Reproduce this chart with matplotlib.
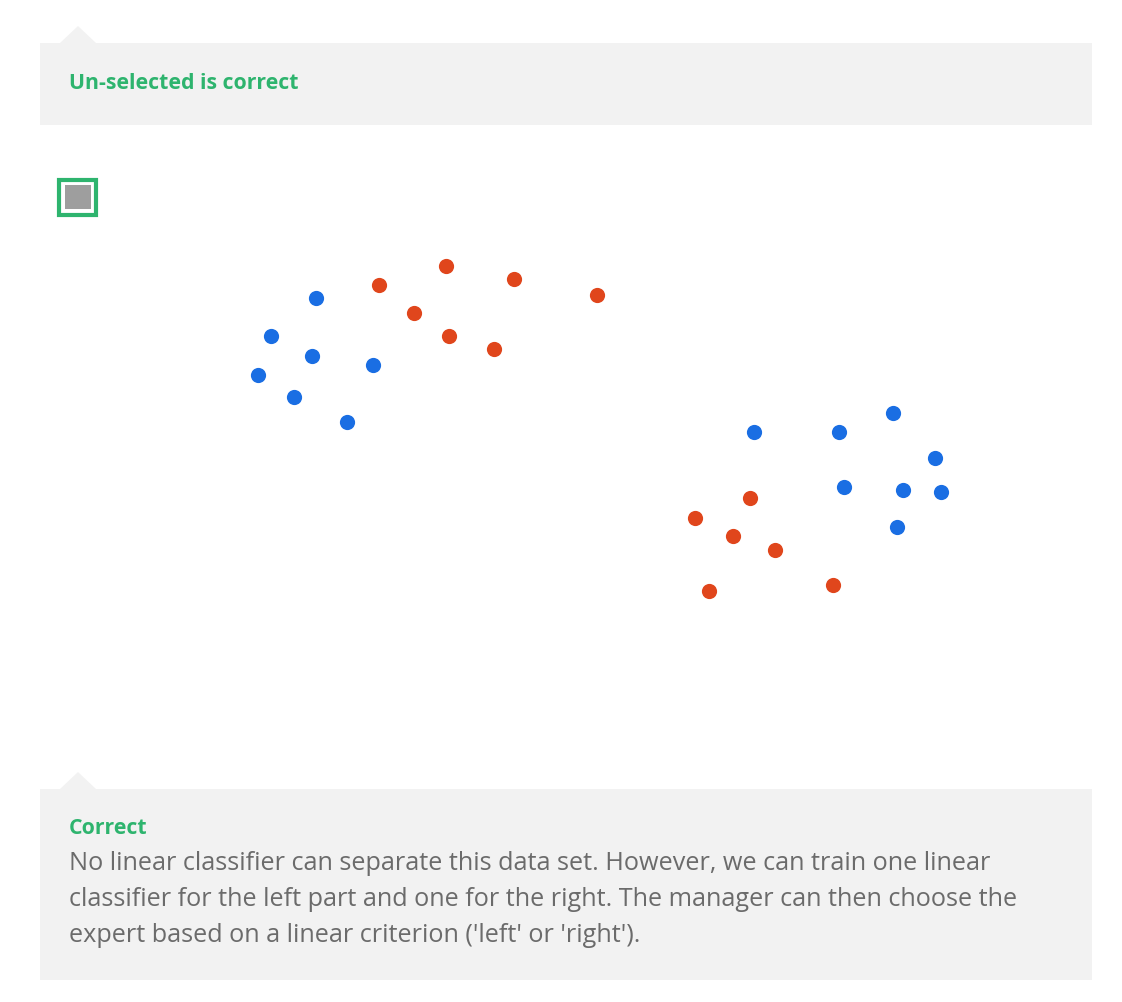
import matplotlib.pyplot as plt
from matplotlib.patches import Rectangle, Polygon

# point positions (pixel space)
blue_x = [316, 271, 312, 258, 294, 347, 373, 754, 839, 893, 935, 844, 903, 941, 897]
blue_y = [298, 336, 356, 375, 397, 422, 365, 432, 432, 413, 458, 487, 490, 492, 527]
red_x = [379, 446, 514, 597, 414, 449, 494, 750, 695, 733, 775, 709, 833]
red_y = [285, 266, 279, 295, 313, 336, 349, 498, 518, 536, 550, 591, 585]

title_top = "Un-selected is correct"
title_bottom = "Correct"
body_lines = [
    "No linear classifier can separate this data set. However, we can train one linear",
    "classifier for the left part and one for the right. The manager can then choose the",
    "expert based on a linear criterion ('left' or 'right').",
]

GREEN = "#2eb46e"
BOX = "#f2f2f2"

fig = plt.figure(figsize=(11.22, 10.02), dpi=100)
ax = fig.add_axes([0, 0, 1, 1])
ax.set_xlim(0, 1122)
ax.set_ylim(1002, 0)
ax.axis("off")

def callout(y0, y1):
    ax.add_patch(Rectangle((40, y0), 1052, y1 - y0, color=BOX, lw=0))
    ax.add_patch(Polygon([(60, y0), (78, y0 - 17), (96, y0)], color=BOX, lw=0))

callout(43, 125)
ax.text(69, 83, title_top, color=GREEN, fontsize=15.3, fontweight="bold",
        family="Open Sans", va="center")

# checkbox
ax.add_patch(Rectangle((59.5, 179.5), 37, 35, fill=False, ec=GREEN, lw=3))
ax.add_patch(Rectangle((65, 185), 26, 24, color="#9e9e9e", lw=0))

ax.scatter(blue_x, blue_y, s=120, color="#1a6ee3", marker="o", lw=0)
ax.scatter(red_x, red_y, s=120, color="#e0461c", marker="o", lw=0)

callout(789, 980)
ax.text(69, 829, title_bottom, color=GREEN, fontsize=15.3, fontweight="bold",
        family="Open Sans", va="center")
for i, line in enumerate(body_lines):
    ax.text(69, 864 + 36 * i, line, color="#6b6b6b", fontsize=18.2,
            family="Open Sans", va="center")

fig.savefig("out.png", dpi=100)
